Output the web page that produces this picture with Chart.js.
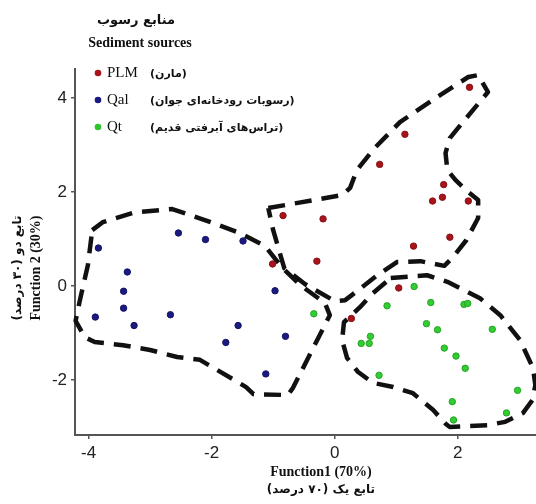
<!DOCTYPE html>
<html>
<head>
<meta charset="utf-8">
<script src="https://cdn.jsdelivr.net/npm/chart.js@4.4.1/dist/chart.umd.min.js"></script>
<style>
    body { margin: 0; background: #fff; }
    #wrap { width: 536px; height: 504px; }
</style>
</head>
<body>
<div id="wrap"><canvas id="ldaChart" width="536" height="504"></canvas></div>
<script>
// Điểm mẫu - PLM (marl)
const plmX = [2.19, 1.14, 0.73, 1.77, 1.59, 1.75, 2.17, 1.87, 1.28, -0.84, -0.19, -1.01, -0.29, 1.04, 0.27];
const plmY = [4.23, 3.23, 2.59, 2.16, 1.81, 1.89, 1.81, 1.04, 0.85, 1.50, 1.43, 0.47, 0.53, -0.04, -0.69];

// Qal
const qalX = [-3.84, -3.37, -3.43, -3.43, -3.89, -3.26, -2.54, -2.10, -1.49, -2.67, -1.57, -1.77, -0.97, -0.80, -1.12];
const qalY = [0.81, 0.30, -0.11, -0.47, -0.66, -0.84, 1.13, 0.99, 0.96, -0.61, -0.84, -1.20, -0.10, -1.07, -1.87];

// Qt
const qtX = [-0.34, 1.29, 0.85, 1.56, 2.10, 2.16, 0.58, 0.43, 0.56, 1.49, 1.67, 2.56, 1.78, 1.97, 2.12, 0.72, 2.97, 1.91, 2.79, 1.93];
const qtY = [-0.59, -0.01, -0.42, -0.35, -0.39, -0.37, -1.07, -1.22, -1.22, -0.80, -0.93, -0.92, -1.32, -1.49, -1.75, -1.90, -2.22, -2.46, -2.70, -2.85];

// Đường bao (dashed hulls)
const plmHullX = [-1.08, 0.13, 0.25, 0.36, 0.65, 1.06, 1.66, 2.17, 2.33, 2.49, 2.07, 1.87, 1.80, 1.83, 1.96, 2.17, 2.33, 2.33, 2.14, 1.91, 1.78, 1.39, 1.01, 0.69, 0.38, 0.17, 0.00, -0.48, -0.82, -1.00, -1.08];
const plmHullY = [1.66, 1.94, 2.09, 2.47, 2.94, 3.49, 4.02, 4.45, 4.49, 4.13, 3.47, 3.15, 2.83, 2.47, 2.26, 2.00, 1.83, 1.45, 0.98, 0.60, 0.43, 0.53, 0.51, 0.23, -0.09, -0.30, -0.32, 0.04, 0.38, 1.19, 1.66];

const qalHullX = [-3.94, -3.77, -3.25, -2.64, -2.10, -1.54, -1.13, -0.86, -0.56, -0.16, -0.08, -0.27, -0.68, -0.76, -1.32, -1.44, -2.19, -2.56, -3.00, -3.44, -3.90, -4.06, -4.21, -4.14, -4.01, -3.94];
const qalHullY = [1.19, 1.36, 1.57, 1.64, 1.40, 1.13, 0.85, 0.40, 0.02, -0.36, -0.62, -1.11, -2.17, -2.32, -2.30, -2.15, -1.57, -1.51, -1.36, -1.26, -1.19, -1.09, -0.74, -0.30, 0.45, 1.19];

const qtHullX = [0.91, 1.50, 1.83, 2.36, 2.69, 3.01, 3.22, 3.26, 3.21, 3.06, 2.77, 2.48, 1.87, 1.81, 1.60, 1.27, 0.95, 0.62, 0.38, 0.20, 0.12, 0.15, 0.41, 0.62, 0.91];
const qtHullY = [0.17, 0.23, 0.09, -0.26, -0.62, -1.15, -1.74, -2.11, -2.43, -2.70, -2.89, -2.96, -3.00, -2.94, -2.64, -2.28, -2.15, -2.06, -1.83, -1.53, -1.15, -0.77, -0.45, -0.15, 0.17];

// Trục
const xTickVals = [-4, -2, 0, 2];
const yTickVals = [-2, 0, 2, 4];

// Chú thích
const legendCodes = ['PLM', 'Qal', 'Qt'];
const legendNames = ['(مارن)', '(رسوبات رودخانه‌ای جوان)', '(تراس‌های آبرفتی قدیم)'];
const legendColors = ['#a8141c', '#1a1a80', '#2fc42f'];

function toPoints(xs, ys) {
    return xs.map((x, i) => ({ x: x, y: ys[i] }));
}

function pointSet(label, xs, ys, color, border) {
    return {
        label: label,
        data: toPoints(xs, ys),
        backgroundColor: color,
        borderColor: border,
        borderWidth: 1,
        pointRadius: 3.2,
        showLine: false
    };
}

function hullSet(xs, ys) {
    return {
        label: 'hull',
        data: toPoints(xs, ys),
        showLine: true,
        pointRadius: 0,
        borderColor: '#111',
        borderWidth: 4.5,
        borderDash: [17, 10],
        borderJoinStyle: 'round',
        fill: false,
        tension: 0,
        clip: 12
    };
}

// Vẽ tiêu đề, chú thích, tên trục
const annotations = {
    id: 'annotations',
    afterDraw(chart) {
        const ctx = chart.ctx;
        ctx.save();
        ctx.fillStyle = '#111';
        ctx.textBaseline = 'middle';

        // tiêu đề chú thích
        ctx.textAlign = 'center';
        ctx.direction = 'rtl';
        ctx.font = 'bold 13px "DejaVu Sans"';
        ctx.fillText('منابع رسوب', 136, 21);
        ctx.direction = 'ltr';
        ctx.font = 'bold 14px "Liberation Serif"';
        ctx.fillText('Sediment sources', 140, 43);

        // các mục chú thích
        legendCodes.forEach((code, i) => {
            const y = 73 + i * 27;
            ctx.beginPath();
            ctx.arc(98, y, 3.3, 0, Math.PI * 2);
            ctx.fillStyle = legendColors[i];
            ctx.fill();
            ctx.fillStyle = '#111';
            ctx.textAlign = 'left';
            ctx.direction = 'ltr';
            ctx.font = '15px "Liberation Serif"';
            ctx.fillText(code, 107, y);
            ctx.direction = 'rtl';
            ctx.font = 'bold 11px "DejaVu Sans"';
            ctx.fillText(legendNames[i], 150, y + 1);
        });

        // tên trục X
        ctx.textAlign = 'center';
        ctx.direction = 'ltr';
        ctx.font = 'bold 14px "Liberation Serif"';
        ctx.fillText('Function1 (70%)', 321, 472);
        ctx.direction = 'rtl';
        ctx.font = 'bold 12px "DejaVu Sans"';
        ctx.fillText('تابع یک (۷۰ درصد)', 321, 490);

        // tên trục Y
        ctx.save();
        ctx.translate(36, 268);
        ctx.rotate(-Math.PI / 2);
        ctx.direction = 'ltr';
        ctx.font = 'bold 14px "Liberation Serif"';
        ctx.fillText('Function 2 (30%)', 0, 0);
        ctx.restore();

        ctx.save();
        ctx.translate(18, 268);
        ctx.rotate(-Math.PI / 2);
        ctx.direction = 'rtl';
        ctx.font = 'bold 12px "DejaVu Sans"';
        ctx.fillText('تابع دو (۳۰ درصد)', 0, 0);
        ctx.restore();

        ctx.restore();
    }
};

const axisGrid = {
    display: true,
    drawOnChartArea: false,
    drawTicks: true,
    tickLength: 4,
    color: '#555',
    lineWidth: 1.5
};

const config = {
    type: 'scatter',
    data: {
        datasets: [
            pointSet('PLM', plmX, plmY, '#a8141c', '#8a0f15'),
            pointSet('Qal', qalX, qalY, '#1a1a80', '#141466'),
            pointSet('Qt', qtX, qtY, '#33cc33', '#22a322'),
            hullSet(plmHullX, plmHullY),
            hullSet(qalHullX, qalHullY),
            hullSet(qtHullX, qtHullY)
        ]
    },
    options: {
        responsive: false,
        animation: false,
        layout: { autoPadding: false, padding: { top: 69, right: 0, left: 0, bottom: 0 } },
        plugins: {
            legend: { display: false },
            tooltip: { enabled: false }
        },
        scales: {
            x: {
                type: 'linear',
                min: -4.22,
                max: 3.27,
                afterBuildTicks: axis => { axis.ticks = xTickVals.map(v => ({ value: v })); },
                afterFit: axis => { axis.height = 69; },
                ticks: {
                    font: { family: 'Liberation Sans', size: 17 },
                    color: '#222',
                    padding: 4,
                    maxRotation: 0
                },
                grid: axisGrid,
                border: { display: true, color: '#555', width: 2 }
            },
            y: {
                type: 'linear',
                min: -3.17,
                max: 4.62,
                afterBuildTicks: axis => { axis.ticks = yTickVals.map(v => ({ value: v })); },
                afterFit: axis => { axis.width = 75; },
                ticks: {
                    font: { family: 'Liberation Sans', size: 17 },
                    color: '#222',
                    padding: 4
                },
                grid: axisGrid,
                border: { display: true, color: '#555', width: 2 }
            }
        }
    },
    plugins: [annotations]
};

const ldaChart = new Chart(document.getElementById('ldaChart'), config);
</script>
</body>
</html>
